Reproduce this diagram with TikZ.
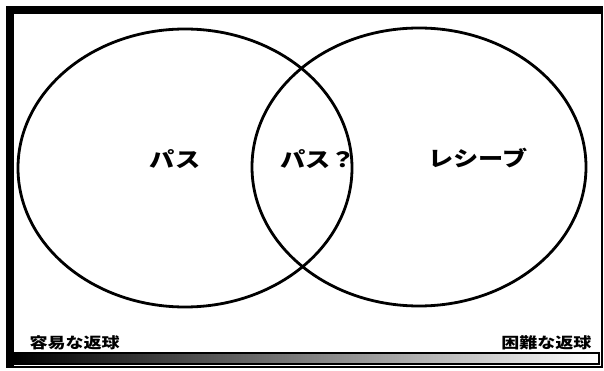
\documentclass[tikz,border=0pt]{standalone}
\usepackage{fontspec}
\newfontfamily\jpfont[FakeStretch=1.2]{Noto Sans CJK JP}
\usetikzlibrary{
  positioning,
  shapes.geometric
}

\begin{document}
\begin{tikzpicture}[
  x=1pt, y=-1pt,
  font=\jpfont\bfseries,
  setcircle/.style={
    ellipse, draw=black, line width=2.8pt, fill=none,
    minimum width=334pt, minimum height=278pt
  },
  setlbl/.style={font=\jpfont\bfseries\fontsize{21}{21}\selectfont},
  scalelbl/.style={font=\jpfont\bfseries\fontsize{15}{15}\selectfont},
]
\useasboundingbox (0,0) rectangle (604,371);

% Frame (heavy top and left edge)
\draw[line width=1.8pt] (7,7) rectangle (602,367);
\fill[black] (7,7) rectangle (602,14);
\fill[black] (7,7) rectangle (14,367);

% The two sets
\node[setcircle] (pass) at (185,168) {};
\node[setcircle] (recv) at (419,167) {};

% Set labels
\node[setlbl] (passlbl) at (175,159) {パス};
\node[setlbl] (bothlbl) at (318,159) {パス？};
\node[setlbl] (recvlbl) at (478,158) {レシーブ};

% Difficulty scale
\shade[left color=black, right color=white] (15,353) rectangle (599,364);
\draw[line width=1.4pt] (15,353) rectangle (599,364);
\node[scalelbl, anchor=west] (easy) at (26,343) {容易な返球};
\node[scalelbl, anchor=east] (hard) at (595,343) {困難な返球};

\end{tikzpicture}
\end{document}
